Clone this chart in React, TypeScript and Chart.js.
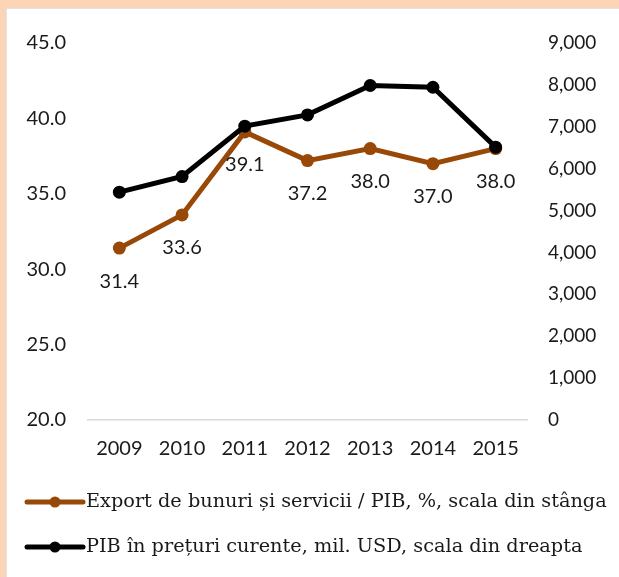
import React, { useEffect, useRef } from 'react';
import { Chart, registerables } from 'chart.js';
Chart.register(...registerables);

const years = ['2009', '2010', '2011', '2012', '2013', '2014', '2015'];
const exportShare = [31.4, 33.6, 39.1, 37.2, 38.0, 37.0, 38.0];
const gdpMilUsd = [5439, 5812, 7015, 7284, 7985, 7944, 6513];
const legendLabels = [
  'Export de bunuri și servicii / PIB, %, scala din stânga',
  'PIB în prețuri curente, mil. USD, scala din dreapta',
];

const ORANGE = '#984807';
const BLACK = '#000000';
const NUM_FONT = 'Lato, "Open Sans", sans-serif';
const LEG_FONT = '"DejaVu Serif", serif';

export default function App() {
  const ref = useRef<HTMLCanvasElement | null>(null);
  useEffect(() => {
    if (!ref.current) return;
    const labelPlugin = {
      id: 'valueLabels',
      afterDatasetsDraw(chart: any) {
        const ctx = chart.ctx;
        const meta = chart.getDatasetMeta(0);
        ctx.save();
        ctx.font = `20px ${NUM_FONT}`;
        ctx.fillStyle = '#1a1a1a';
        ctx.textAlign = 'center';
        ctx.textBaseline = 'middle';
        meta.data.forEach((pt: any, i: number) => {
          ctx.fillText(exportShare[i].toFixed(1), pt.x, pt.y + 33);
        });
        ctx.restore();
      },
    };
    const legendPlugin = {
      id: 'lineLegend',
      afterDraw(chart: any) {
        const ctx = chart.ctx;
        const base = chart.chartArea.bottom;
        const colors = [ORANGE, BLACK];
        ctx.save();
        legendLabels.forEach((txt, i) => {
          const y = base + 82 + i * 45;
          ctx.strokeStyle = colors[i];
          ctx.lineWidth = 5;
          ctx.lineCap = 'round';
          ctx.beginPath();
          ctx.moveTo(20, y);
          ctx.lineTo(76, y);
          ctx.stroke();
          ctx.fillStyle = colors[i];
          ctx.beginPath();
          ctx.arc(48, y, 5.5, 0, Math.PI * 2);
          ctx.fill();
          ctx.fillStyle = '#1a1a1a';
          ctx.font = `19.3px ${LEG_FONT}`;
          ctx.textAlign = 'left';
          ctx.textBaseline = 'middle';
          ctx.fillText(txt, 79, y);
        });
        ctx.restore();
      },
    };
    const chart = new Chart(ref.current, {
      type: 'line',
      data: {
        labels: years,
        datasets: [
          {
            label: legendLabels[0],
            data: exportShare,
            yAxisID: 'y',
            borderColor: ORANGE,
            backgroundColor: ORANGE,
            borderWidth: 5,
            pointRadius: 6.5,
            pointBorderWidth: 0,
            pointBackgroundColor: ORANGE,
            tension: 0,
            order: 1,
          },
          {
            label: legendLabels[1],
            data: gdpMilUsd,
            yAxisID: 'y1',
            borderColor: BLACK,
            backgroundColor: BLACK,
            borderWidth: 5,
            pointRadius: 6.5,
            pointBorderWidth: 0,
            pointBackgroundColor: BLACK,
            tension: 0,
            order: 0,
          },
        ],
      },
      options: {
        responsive: false,
        animation: false,
        layout: { padding: { top: 22, bottom: 117, left: 0, right: 0 } },
        plugins: { legend: { display: false }, tooltip: { enabled: false } },
        scales: {
          x: {
            offset: true,
            grid: { display: false, drawTicks: false },
            border: { display: true, color: '#d9d9d9', width: 1.5 },
            ticks: { color: '#1a1a1a', font: { family: NUM_FONT, size: 20 }, padding: 17, maxRotation: 0 },
            afterFit: (s: any) => { s.height = 40; },
          },
          y: {
            position: 'left',
            min: 20,
            max: 45,
            grid: { display: false, drawTicks: false },
            border: { display: false },
            ticks: {
              stepSize: 5,
              color: '#1a1a1a',
              font: { family: NUM_FONT, size: 20 },
              padding: 22,
              callback: (v: any) => Number(v).toFixed(1),
            },
            afterFit: (s: any) => { s.width = 81; },
          },
          y1: {
            position: 'right',
            min: 0,
            max: 9000,
            grid: { display: false, drawTicks: false },
            border: { display: false },
            ticks: {
              stepSize: 1000,
              color: '#1a1a1a',
              font: { family: NUM_FONT, size: 19 },
              padding: 21,
              callback: (v: any) => Number(v).toLocaleString('en-US'),
            },
            afterFit: (s: any) => { s.width = 92; },
          },
        },
      },
      plugins: [labelPlugin, legendPlugin],
    });
    return () => chart.destroy();
  }, []);

  return (
    <div style={{ position: 'fixed', left: 0, top: 0, width: 619, height: 577, background: '#FBD5B5', overflow: 'hidden' }}>
      <div style={{ position: 'absolute', left: 6, top: 8, width: 613, height: 569, background: '#fff', borderLeft: '1px solid #e2e2e2', borderTop: '1px solid #e2e2e2' }}>
        <canvas ref={ref} width={612} height={568} style={{ display: 'block' }} />
      </div>
    </div>
  );
}
